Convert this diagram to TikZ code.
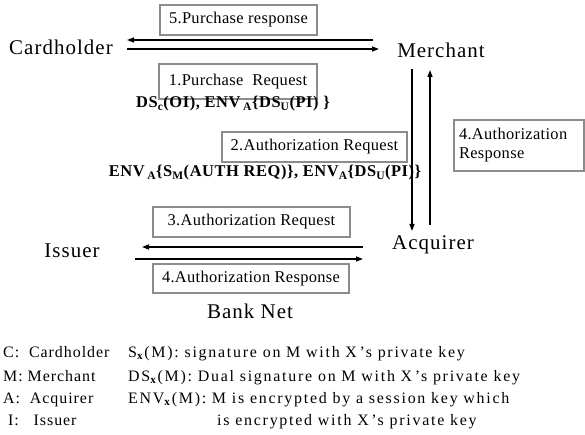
\documentclass[tikz,border=0pt]{standalone}
\usepackage{fontspec}
\setmainfont{Liberation Serif}
\usetikzlibrary{arrows.meta}
\begin{document}
\begin{tikzpicture}[x=1bp,y=-1bp,
  party/.style={font=\fontsize{21}{24}\selectfont\addfontfeature{LetterSpace=5}, inner sep=0pt, anchor=base},
  msgbox/.style={draw=black!45, line width=1.3bp, font=\fontsize{16.5}{19}\selectfont\addfontfeature{LetterSpace=2}, inner sep=0pt},
  formula/.style={font=\fontsize{16.5}{19}\selectfont\bfseries\addfontfeature{LetterSpace=3.5}, inner sep=0pt, anchor=base},
  legend/.style={font=\fontsize{16}{18}\selectfont\addfontfeature{LetterSpace=11}, inner sep=0pt, anchor=base west},
  legendkey/.style={font=\fontsize{16}{18}\selectfont\addfontfeature{LetterSpace=6}, inner sep=0pt, anchor=base west},
  arr/.style={line width=1.3bp, -{Triangle[length=7bp,width=5bp]}}]
\useasboundingbox (0,0) rectangle (585,435);
% parties
\node[party] (ch) at (61,55) {Cardholder};
\node[party] (me) at (441,58) {Merchant};
\node[party] (ac) at (433,250) {Acquirer};
\node[party] (is) at (72,258) {Issuer};
\node[party] (bn) at (250,318) {Bank Net};
% arrow end points
\coordinate (chA) at (373,40);
\coordinate (chB) at (127,40);
\coordinate (chC) at (127,49);
\coordinate (chD) at (379,49);
\coordinate (maA) at (412,69);
\coordinate (maB) at (412,231);
\coordinate (maC) at (430,225);
\coordinate (maD) at (430,70);
\coordinate (aiA) at (363,247);
\coordinate (aiB) at (142,247);
\coordinate (aiC) at (135,259);
\coordinate (aiD) at (363,259);
\draw[arr] (chA) -- (chB);
\draw[arr] (chC) -- (chD);
\draw[arr] (maA) -- (maB);
\draw[arr] (maC) -- (maD);
\draw[arr] (aiA) -- (aiB);
\draw[arr] (aiC) -- (aiD);
% message boxes
\node[msgbox, minimum width=157bp, minimum height=30bp] (b5) at (238.5,20) {5.Purchase response};
\node[msgbox, minimum width=158bp, minimum height=35bp] (b1) at (238,81.5) {\raisebox{-3.5bp}{1.Purchase\ \ Request}};
\node[msgbox, minimum width=185bp, minimum height=30bp] (b2) at (314.5,147) {2.Authorization Request};
\node[msgbox, minimum width=130bp, minimum height=51bp, align=left, text width=120bp] (b4r) at (519,145.5) {4.Authorization\\Response};
\node[msgbox, minimum width=197bp, minimum height=30bp] (b3) at (251.5,222) {3.Authorization Request};
\node[msgbox, minimum width=196bp, minimum height=29bp] (b4) at (251,278.5) {4.Authorization Response};
% formulas
\node[formula] (f1) at (233,108) {DS\textsubscript{c}(OI), ENV\,\textsubscript{A}\{DS\textsubscript{U}(PI) \}};
\node[formula] (f2) at (265,177) {ENV\,\textsubscript{A}\{S\textsubscript{M}(AUTH REQ)\}, ENV\textsubscript{A}\{DS\textsubscript{U}(PI)\}};
% legend
\node[legendkey] (l1) at (3,357) {C:\ \ Cardholder};
\node[legendkey] (l2) at (3,381) {M: Merchant};
\node[legendkey] (l3) at (3,403) {A:\ \ Acquirer};
\node[legendkey] (l4) at (8,425) {I:\ \ \ Issuer};
\node[legend] (r1) at (128,357) {S\textsubscript{\textbf{x}}(M): signature on M with X\,’s private key};
\node[legend] (r2) at (128,381) {DS\textsubscript{\textbf{x}}(M): Dual signature on M with X\,’s private key};
\node[legend] (r3) at (128,403) {ENV\textsubscript{\textbf{x}}(M): M is encrypted by a session key which};
\node[legend] (r4) at (217,425) {is encrypted with X\,’s private key};
\end{tikzpicture}
\end{document}
